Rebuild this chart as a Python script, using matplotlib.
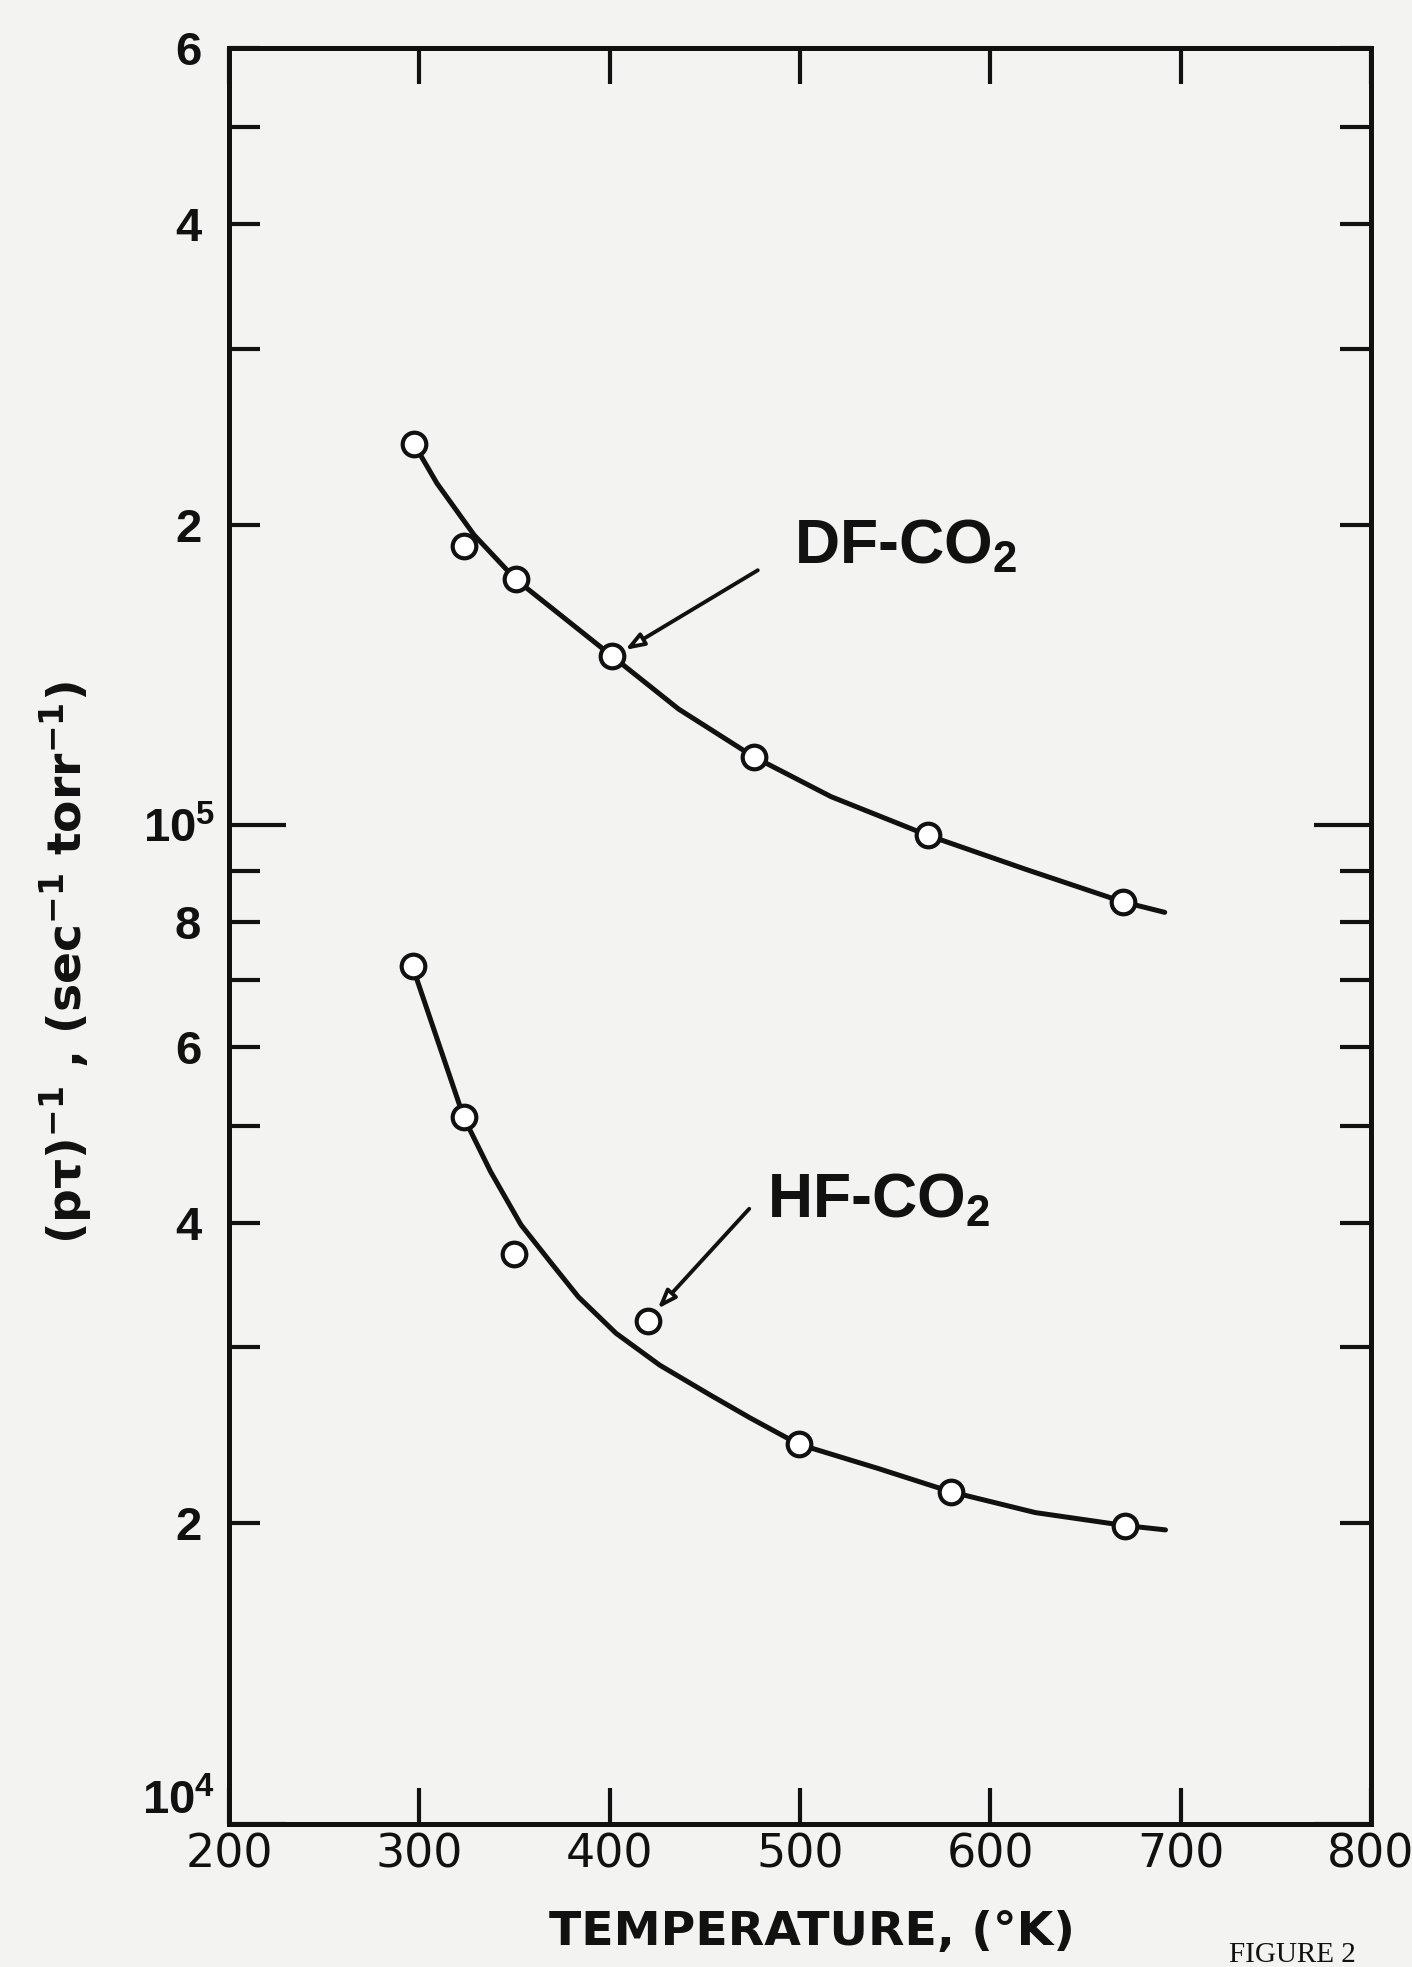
import matplotlib
matplotlib.use("Agg")
from matplotlib import pyplot as plt
from matplotlib.ticker import FixedLocator, FixedFormatter
import numpy as np

plt.rcParams['mathtext.fontset'] = 'custom'
plt.rcParams['mathtext.rm'] = 'Liberation Sans:bold'
plt.rcParams['mathtext.bf'] = 'Liberation Sans:bold'
plt.rcParams['mathtext.default'] = 'regular'

# measured points (open circles)
df_T = [297.1, 323.6, 350.7, 401.2, 475.6, 567.1, 669.6]
df_rate = [2.41e5, 1.905e5, 1.762e5, 1.477e5, 1.171e5, 9.77e4, 8.38e4]
hf_T = [296.4, 323.3, 349.6, 420.0, 499.3, 579.5, 670.6]
hf_rate = [7.22e4, 5.10e4, 3.72e4, 3.19e4, 2.40e4, 2.15e4, 1.99e4]

# hand drawn fit lines
df_line_T = [297.1, 309.2, 328.8, 350.7, 401.2, 436.2, 475.6, 516.3, 567.1, 618.8, 669.6, 691.6]
df_line_rate = [2.41e5, 2.20e5, 1.952e5, 1.762e5, 1.477e5, 1.307e5, 1.171e5, 1.068e5, 9.77e4, 9.03e4, 8.38e4, 8.18e4]
hf_line_T = [296.4, 323.3, 337.4, 353.4, 369.5, 383.6, 403.3, 426.3, 452.6, 473.8, 499.3,
             540.9, 579.5, 623.7, 670.6, 692.0]
hf_line_rate = [7.22e4, 5.10e4, 4.50e4, 3.98e4, 3.64e4, 3.37e4, 3.10e4, 2.88e4, 2.69e4, 2.55e4, 2.40e4,
                2.27e4, 2.15e4, 2.05e4, 1.99e4, 1.97e4]

x_ticks = [200, 300, 400, 500, 600, 700, 800]
y_major = [1e4, 1e5]
y_major_labels = ['10$^{4}$', '10$^{5}$']
y_minor = [2e4, 3e4, 4e4, 5e4, 6e4, 7e4, 8e4, 9e4, 2e5, 3e5, 4e5, 5e5, 6e5]
y_minor_labels = ['2', '', '4', '', '6', '', '8', '', '2', '', '4', '', '6']

ink = '#111111'
paper = '#f3f3f1'

fig = plt.figure(figsize=(14.12, 19.67), dpi=100, facecolor=paper)
ax = fig.add_axes([0.1622, 0.0727, 0.8088, 0.9029])
ax.set_facecolor(paper)

for xs, ys in [(df_line_T, df_line_rate), (hf_line_T, hf_line_rate)]:
    ax.plot(xs, ys, color=ink, lw=3.6, solid_joinstyle='round',
            solid_capstyle='round', zorder=2)
for xs, ys in [(df_T, df_rate), (hf_T, hf_rate)]:
    ax.plot(xs, ys, 'o', ms=17, mew=3.0, mfc='white', mec=ink, zorder=3)

arrow = dict(arrowstyle='-|>,head_length=1.1,head_width=0.4', lw=2.8,
             fc='white', ec=ink, shrinkA=0, shrinkB=0)
ax.annotate('', xy=(408.1, 1.498e5), xytext=(477.8, 1.80e5), arrowprops=arrow)
ax.annotate('', xy=(425.2, 3.28e4), xytext=(473.3, 4.13e4), arrowprops=arrow)

lab = dict(fontsize=45, family='Liberation Sans', weight='bold', color=ink,
           ha='left', va='baseline')
ax.text(497, 1.83e5, 'DF-CO$_{2}$', **lab)
ax.text(482.8, 4.05e4, 'HF-CO$_{2}$', **lab)

ax.set_xlim(200, 800)
ax.set_yscale('log')
ax.set_ylim(1e4, 6e5)

ax.set_xticks(x_ticks)
ax.set_xticklabels([str(t) for t in x_ticks])
ax.yaxis.set_major_locator(FixedLocator(y_major))
ax.yaxis.set_major_formatter(FixedFormatter(y_major_labels))
ax.yaxis.set_minor_locator(FixedLocator(y_minor))
ax.yaxis.set_minor_formatter(FixedFormatter(y_minor_labels))

ax.tick_params(axis='both', which='both', direction='in', top=True, right=True,
               color=ink, width=3.0, labelcolor=ink)
ax.tick_params(axis='x', length=26, pad=6, labelsize=33)
ax.tick_params(axis='y', which='major', length=41, pad=10, labelsize=34)
ax.tick_params(axis='y', which='minor', length=22, pad=20, labelsize=34)
for t in ax.get_xticklabels():
    t.set_family('DejaVu Sans')
for t in ax.get_yticklabels(which='both'):
    t.set_family('Liberation Sans')
    t.set_fontweight('bold')
# 10^4 sits just above the corner, clear of the "200"
ax.get_yticklabels()[0].set_va('bottom')

for s in ax.spines.values():
    s.set_linewidth(3.6)
    s.set_color(ink)

fig.text(812 / 1412, 1 - 1932 / 1967, 'TEMPERATURE, (°K)', fontsize=34,
         family='DejaVu Sans', weight='bold', color=ink, ha='center', va='center')
fig.text(66 / 1412, 1 - 963 / 1967, '(pτ)$^{-1}$ , (sec$^{-1}$ torr$^{-1}$)', fontsize=34,
         family='DejaVu Sans', weight='bold', color=ink, rotation=90,
         ha='center', va='center')
fig.text(1292 / 1412, 1 - 1955 / 1967, 'FIGURE 2', fontsize=21,
         family='Liberation Serif', color=ink, ha='center', va='center')

fig.savefig('out.png', dpi=100, facecolor=paper)
